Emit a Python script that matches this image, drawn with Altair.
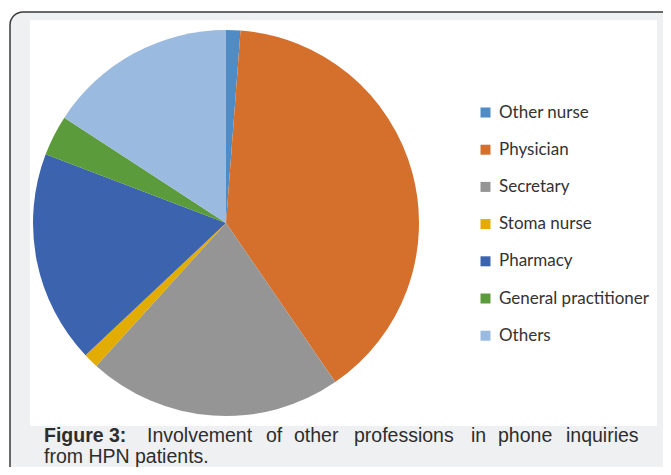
import altair as alt
import pandas as pd

categories = ["Other nurse", "Physician", "Secretary", "Stoma nurse",
              "Pharmacy", "General practitioner", "Others"]
values = [1.2, 39.2, 21.3, 1.25, 17.8, 3.4, 15.8]
colors = ["#4f8bc4", "#d4702c", "#959595", "#e2ac00",
          "#3c63ae", "#5c9b3b", "#9bbae0"]

caption_line1_bold = "Figure 3:"
caption_line1_words = ["Involvement", "of", "other", "professions", "in", "phone", "inquiries"]
caption_line2 = "from HPN patients."

df = pd.DataFrame({"category": categories, "value": values, "idx": list(range(len(categories)))})
one = pd.DataFrame({"a": [0]})

frame = alt.Chart(one).mark_rect(
    fill="#eff0f2", stroke="#3a3a3a", strokeWidth=1.5, cornerRadius=13
).encode(x=alt.value(2), x2=alt.value(690), y=alt.value(4), y2=alt.value(490))

inner = alt.Chart(one).mark_rect(fill="white").encode(
    x=alt.value(22), x2=alt.value(649), y=alt.value(12), y2=alt.value(418)
)

pie = alt.Chart(df).mark_arc(radius=193).encode(
    theta=alt.Theta("value:Q", stack=True),
    order=alt.Order("idx:Q", sort="ascending"),
    color=alt.Color(
        "category:N",
        scale=alt.Scale(domain=categories, range=colors),
        legend=alt.Legend(
            title=None, orient="none", legendX=469, legendY=96,
            symbolType="square", symbolSize=100, symbolStrokeWidth=0,
            labelFont="Lato", labelFontSize=17, labelColor="#333333",
            labelOffset=5, rowPadding=19.2, padding=0, labelLimit=300,
        ),
    ),
    x=alt.value(218),
    y=alt.value(215),
)

layers = [frame, inner, pie]

FS = 19.5
layers.append(
    alt.Chart(one).mark_text(
        text=caption_line1_bold, font="Liberation Sans", fontSize=FS, fontWeight="bold",
        align="left", baseline="alphabetic", color="#2d2d2d"
    ).encode(x=alt.value(36), y=alt.value(434))
)
word_x = [139, 258, 286, 346, 463, 490, 558]
for w, xx in zip(caption_line1_words, word_x):
    layers.append(
        alt.Chart(one).mark_text(
            text=w, font="Liberation Sans", fontSize=FS,
            align="left", baseline="alphabetic", color="#2d2d2d"
        ).encode(x=alt.value(xx), y=alt.value(434))
    )
layers.append(
    alt.Chart(one).mark_text(
        text=caption_line2, font="Liberation Sans", fontSize=FS,
        align="left", baseline="alphabetic", color="#2d2d2d"
    ).encode(x=alt.value(36), y=alt.value(455))
)

chart = alt.layer(*layers).properties(
    width=655, height=459, padding=0,
    autosize=alt.AutoSizeParams(type="fit", contains="padding"),
    background="white",
).configure_view(stroke=None)

chart.save("out.html", embed_options={"renderer": "svg", "actions": False})
